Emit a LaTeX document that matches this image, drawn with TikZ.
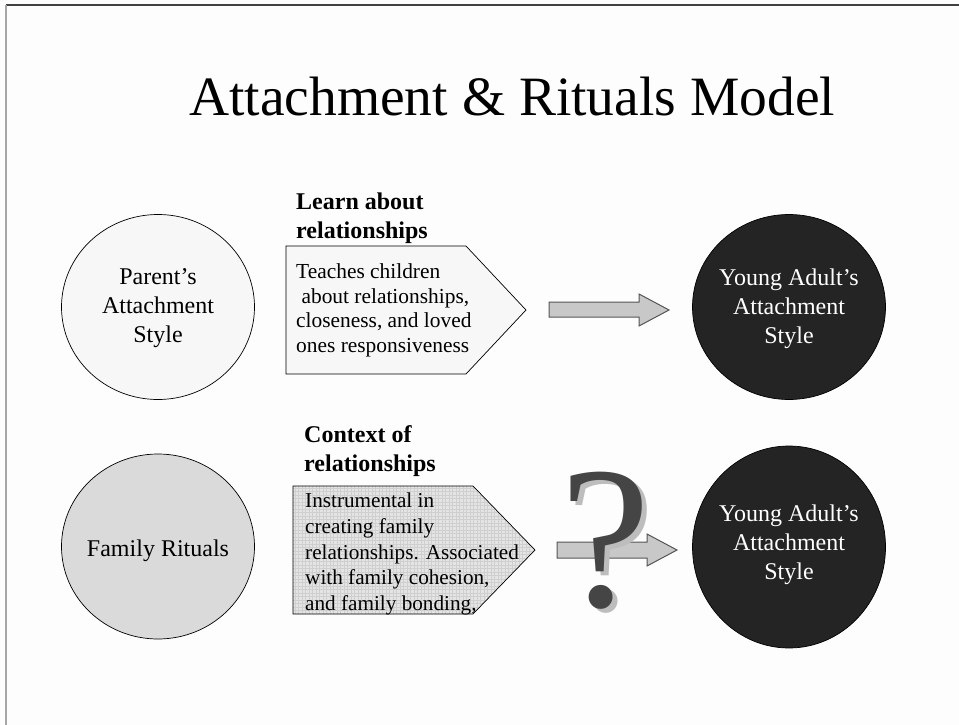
\documentclass[tikz,border=0pt]{standalone}
\usepackage{fontspec}
\setmainfont{Liberation Serif}
\usetikzlibrary{shapes.geometric}
\definecolor{bgc}{HTML}{FDFDFD}
\definecolor{lightc}{HTML}{F7F7F7}
\definecolor{midc}{HTML}{DADADA}
\definecolor{darkc}{HTML}{242424}
\definecolor{gridbg}{HTML}{E4E4E4}
\definecolor{gridln}{HTML}{CFCFCF}
\definecolor{arrfill}{HTML}{C8C8C8}
\definecolor{arredge}{HTML}{555555}
\definecolor{qmc}{HTML}{454545}
\definecolor{qmshadow}{HTML}{BDBDBD}
\begin{document}
\begin{tikzpicture}[x=1pt,y=-1pt,
  oval/.style={ellipse, draw=black, line width=0.7pt, inner sep=0pt,
    minimum width=193pt, minimum height=185pt},
  ovaltext/.style={inner sep=0pt, align=center, font=\fontsize{24}{29}\selectfont},
  headtext/.style={inner sep=0pt, anchor=north west, align=left, font=\fontsize{24}{28.5}\bfseries\selectfont},
  bodytext/.style={inner sep=0pt, anchor=north west, align=left},
  pentagon/.style={draw=black, line width=0.7pt},
  blockarrow/.style={fill=arrfill, draw=arredge, line width=1pt},
  gridline/.style={draw=gridln, line width=0.35pt}]
\fill[bgc] (0,0) rectangle (959,725);
\useasboundingbox (0,0) rectangle (959,725);
% frame
\coordinate (fl) at (6,5);
\coordinate (fr) at (959,5);
\coordinate (fb) at (6,725);
\draw[line width=1.2pt, color=black!75] (fl) -- (fr);
\draw[line width=1.2pt, color=black!35] (fl) -- (fb);
% title
\node[inner sep=0pt, anchor=base west, font=\fontsize{55.5}{60}\selectfont] (title) at (189,115) {Attachment \& Rituals Model};
% left circles
\node[oval, fill=lightc] (parent) at (158,307) {};
\node[ovaltext] (parenttxt) at (158,308.5) {Parent’s\\Attachment\\Style};
\node[oval, fill=midc] (rituals) at (158,546.5) {};
\node[ovaltext] (ritualstxt) at (158,550.5) {Family Rituals};
% right circles
\node[oval, fill=darkc, minimum width=193pt, minimum height=185pt] (ya1) at (789,307) {};
\node[ovaltext, text=white] (ya1txt) at (789,308.5) {Young Adult’s\\Attachment\\Style};
\node[oval, fill=darkc, minimum width=193pt, minimum height=202pt] (ya2) at (789,547) {};
\node[ovaltext, text=white] (ya2txt) at (789,544.5) {Young Adult’s\\Attachment\\Style};
% box 1
\draw[pentagon, fill=lightc] (286,246) -- (466,246) -- (526,310) -- (466,374) -- (286,374) -- cycle;
\node[headtext] (head1) at (296,192.8) {Learn about\\relationships};
\node[bodytext, font=\fontsize{21.4}{24.6}\selectfont] (body1) at (296,263.4)
  {Teaches children\\\ about relationships,\\closeness, and loved\\ones responsiveness};
% box 2
\begin{scope}
  \clip (293,486) -- (473,486) -- (535,550) -- (473,614) -- (293,614) -- cycle;
  \fill[gridbg] (293,486) rectangle (535,614);
  \foreach \gx in {295,298.5,...,535} \draw[gridline] (\gx,486) -- (\gx,614);
  \foreach \gy in {488,491.5,...,614} \draw[gridline] (293,\gy) -- (535,\gy);
\end{scope}
\draw[pentagon] (293,486) -- (473,486) -- (535,550) -- (473,614) -- (293,614) -- cycle;
\node[headtext] (head2) at (304,425.8) {Context of\\relationships};
\node[bodytext, font=\fontsize{21.2}{25.8}\selectfont] (body2) at (305,492.6)
  {Instrumental in\\creating family\\relationships. Associated\\with family cohesion,\\and family bonding,};
% block arrows
\draw[blockarrow] (549,302) -- (639,302) -- (639,294) -- (669,310) -- (639,326) -- (639,317) -- (549,317) -- cycle;
\draw[blockarrow] (557,542) -- (647,542) -- (647,534) -- (677,550) -- (647,566) -- (647,558) -- (557,558) -- cycle;
% question mark with its shadow, as one text
\node[inner sep=0pt, anchor=base, text=qmc, font=\fontsize{203}{203}\selectfont] (qm) at (606,606)
  {\makebox[0pt][l]{\hspace{5pt}\raisebox{-4pt}{\textcolor{qmshadow}{?}}}?};
\end{tikzpicture}
\end{document}
